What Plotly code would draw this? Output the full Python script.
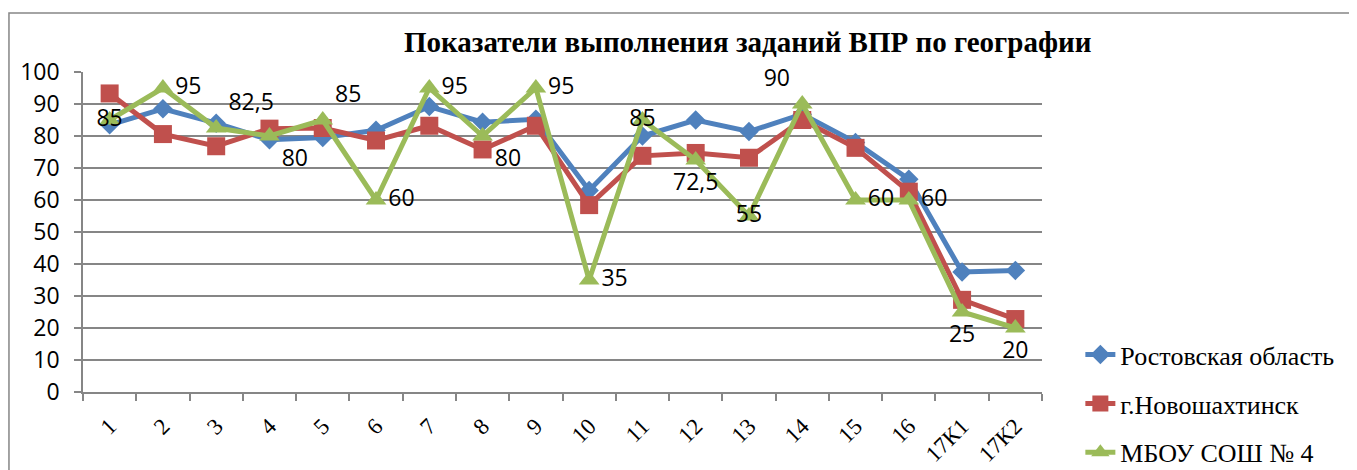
import plotly.graph_objects as go

categories = ["1", "2", "3", "4", "5", "6", "7", "8", "9", "10", "11", "12", "13", "14", "15", "16", "17К1", "17К2"]
rostov = [83.5, 88.5, 84, 78.8, 79.5, 81.8, 89.2, 84.3, 85.2, 63, 80, 85, 81.4, 86.8, 78, 66.5, 37.5, 38]
novoshakhtinsk = [93.3, 80.6, 76.8, 82.3, 82.5, 78.6, 83.2, 75.8, 83.2, 58.4, 73.8, 74.7, 73.2, 85, 76.3, 62.6, 28.8, 22.8]
school = [85, 95, 82.5, 80, 85, 60, 95, 80, 95, 35, 85, 72.5, 55, 90, 60, 60, 25, 20]
school_labels = ["85", "95", "82,5", "80", "85", "60", "95", "80", "95", "35", "85", "72,5", "55", "90", "60", "60", "25", "20"]
label_pos = ["middle center", "middle right", "top right", "bottom right", "top right", "middle right",
             "middle right", "bottom right", "middle right", "middle right", "middle center", "bottom center",
             "middle center", "top left", "middle right", "middle right", "bottom center", "bottom center"]

names = ["Ростовская область", "г.Новошахтинск", "МБОУ СОШ № 4"]
title = "Показатели выполнения заданий ВПР по географии"

fig = go.Figure()
fig.add_trace(go.Scatter(x=categories, y=rostov, name=names[0], mode="lines+markers",
                         line=dict(color="#4F81BD", width=5),
                         marker=dict(symbol="diamond", size=15, color="#4F81BD"),
                         legendgroup="a", cliponaxis=False))
fig.add_trace(go.Scatter(x=categories, y=novoshakhtinsk, name=names[1], mode="lines+markers",
                         line=dict(color="#C0504D", width=5),
                         marker=dict(symbol="square", size=18, color="#C0504D"),
                         legendgroup="b", cliponaxis=False))
fig.add_trace(go.Scatter(x=categories, y=school, name=names[2], mode="lines+markers+text",
                         line=dict(color="#9BBB59", width=5),
                         marker=dict(symbol="triangle-up", size=18, color="#9BBB59"),
                         text=school_labels, textposition=label_pos,
                         textfont=dict(family="Open Sans", size=23, color="#000000"),
                         legendgroup="c", cliponaxis=False))

fig.update_layout(
    width=1349, height=462,
    margin=dict(l=75, r=315, t=64, b=78, autoexpand=False),
    paper_bgcolor="white", plot_bgcolor="white",
    showlegend=True,
    legend=dict(x=1.04, y=0.19, xanchor="left", yanchor="top",
                font=dict(family="Liberation Serif", size=26, color="#000000"),
                tracegroupgap=12, bgcolor="rgba(0,0,0,0)"),
    xaxis=dict(type="category", showgrid=False, showline=True, linecolor="#868686", linewidth=1.5,
               ticks="outside", tickson="boundaries", ticklen=7, tickcolor="#868686", tickwidth=1.5,
               tickangle=-45, tickfont=dict(family="Liberation Serif", size=23, color="#000000"),
               ticklabelstandoff=10, automargin=False, range=[-0.5, 17.5]),
    yaxis=dict(range=[0, 100], dtick=10, showgrid=True, gridcolor="#868686", gridwidth=1.5,
               showline=True, linecolor="#868686", linewidth=1.5, ticks="outside", ticklen=7,
               tickcolor="#868686", tickwidth=1.5, zeroline=False, automargin=False,
               ticklabelstandoff=10,
               tickfont=dict(family="Open Sans", size=23, color="#000000")),
    annotations=[dict(text="<b>" + title + "</b>", xref="paper", yref="paper", x=0.693, y=1.094,
                      xanchor="center", yanchor="middle", showarrow=False,
                      font=dict(family="Liberation Serif", size=29, color="#000000"))],
    shapes=[dict(type="rect", xref="paper", yref="paper", x0=-0.0772, y0=-0.3, x1=1.36, y1=1.184,
                 line=dict(color="#868686", width=1.5), layer="below")],
)

fig.write_html("out.html")
